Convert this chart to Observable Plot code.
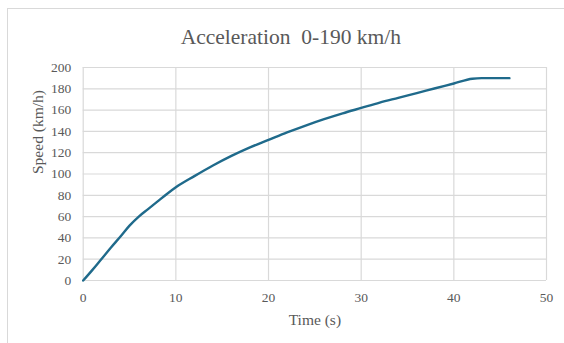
<!DOCTYPE html>
<html>
<head>
<meta charset="utf-8">
<script src="https://cdn.jsdelivr.net/npm/d3@7"></script>
<script src="https://cdn.jsdelivr.net/npm/@observablehq/plot@0.6"></script>
<style>
  body { margin: 0; background: #fff; }
  #wrap { position: relative; width: 564px; height: 343px; overflow: hidden; }
  #frame { position: absolute; left: 7px; top: 8px; width: 600px; height: 400px;
           border-left: 1.5px solid #d9d9d9; border-top: 1.5px solid #d9d9d9; box-sizing: border-box; }
  #chart { position: absolute; left: 0; top: 0; }
  #chart svg text { font-family: "Liberation Serif", "Times New Roman", serif; }
</style>
</head>
<body>
<div id="wrap"><div id="frame"></div><div id="chart"></div></div>
<script>
const title = "Acceleration  0-190 km/h";
const xLabel = "Time (s)";
const yLabel = "Speed (km/h)";
const xTicks = [0, 10, 20, 30, 40, 50];
const yTicks = [0, 20, 40, 60, 80, 100, 120, 140, 160, 180, 200];
const time  = [0, 1, 2, 3, 4, 5, 6, 7, 8, 9, 10, 12, 14, 16, 18, 20, 22, 24, 26, 28, 30, 32, 34, 36, 38, 40, 42, 43, 44, 46];
const speed = [0, 10, 20.5, 31, 41, 51.5, 60, 67, 74, 81, 87.5, 98, 108, 117, 125, 132, 139, 145.5, 151.5, 157, 162, 167, 171.5, 176, 180.5, 185, 189.5, 190, 190, 190];

const data = time.map((t, i) => ({t, v: speed[i]}));
const font = "Liberation Serif, Times New Roman, serif";
const grey = "#595959";

const plot = Plot.plot({
  width: 564,
  height: 343,
  marginLeft: 82.7,
  marginRight: 18,
  marginTop: 67,
  marginBottom: 63,
  style: { fontFamily: font, fontSize: "13.5px", color: grey, background: "transparent", overflow: "visible" },
  x: { domain: [0, 50] },
  y: { domain: [0, 200] },
  marks: [
    Plot.gridX(xTicks, { stroke: "#d9d9d9", strokeOpacity: 1, strokeWidth: 1.2 }),
    Plot.gridY(yTicks, { stroke: "#d9d9d9", strokeOpacity: 1, strokeWidth: 1.2 }),
    Plot.axisX(xTicks, { tickSize: 0, tickPadding: 12, label: null, fill: grey, fontSize: 13.5 }),
    Plot.axisY(yTicks, { tickSize: 0, tickPadding: 12, label: null, fill: grey, fontSize: 13.5 }),
    Plot.line(data, { x: "t", y: "v", stroke: "#1f6a8b", strokeWidth: 2.4, curve: "monotone-x" }),
    Plot.text([title], { frameAnchor: "top", dx: -24, dy: -30, text: d => d, fontSize: 21.5, fill: grey, fontFamily: font, lineAnchor: "middle" }),
    Plot.text([xLabel], { frameAnchor: "bottom", dy: 40, text: d => d, fontSize: 15.5, fill: grey, fontFamily: font, lineAnchor: "middle" }),
    Plot.text([yLabel], { frameAnchor: "left", dx: -44.7, text: d => d, rotate: -90, fontSize: 15.5, fill: grey, fontFamily: font, lineAnchor: "middle" })
  ]
});
document.getElementById("chart").appendChild(plot);
</script>
</body>
</html>
